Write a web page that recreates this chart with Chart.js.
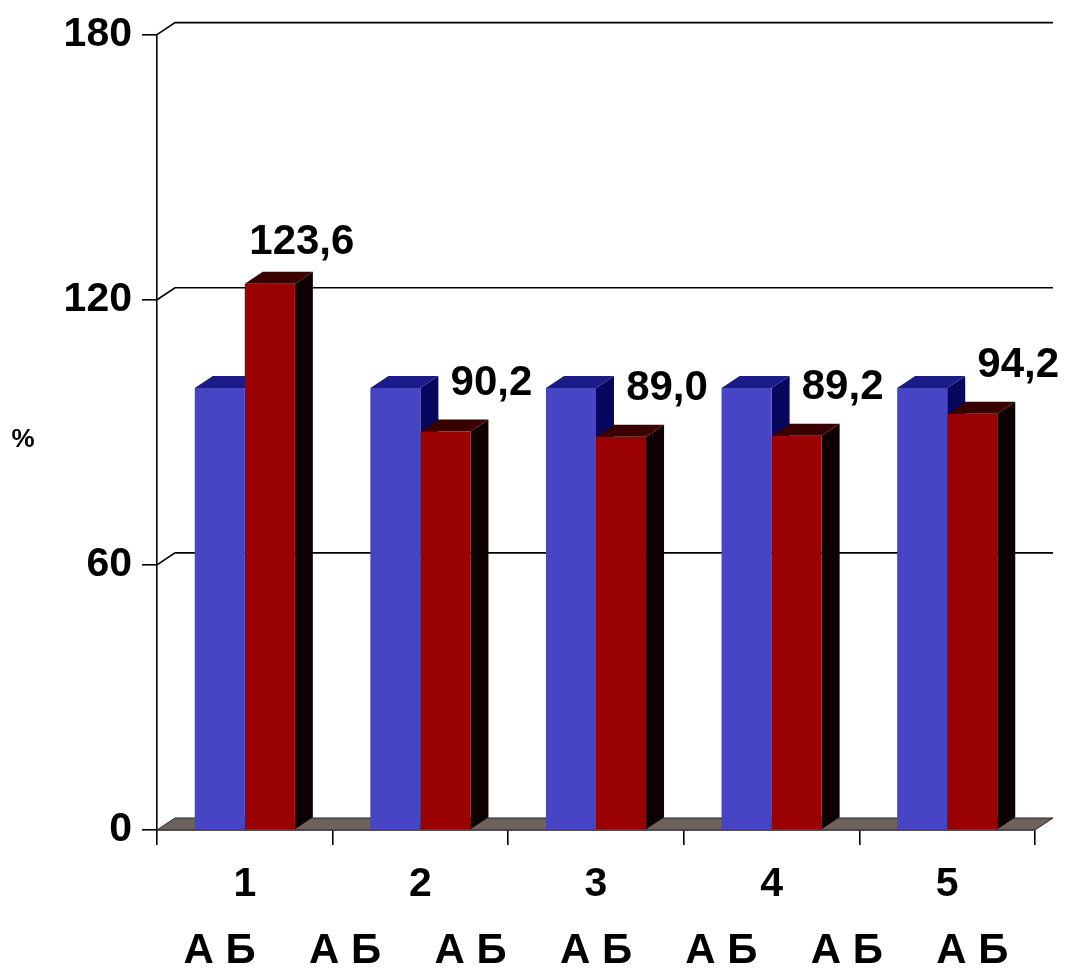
<!DOCTYPE html>
<html>
<head>
<meta charset="utf-8">
<script src="https://cdn.jsdelivr.net/npm/chart.js@4"></script>
<style>
  html, body { margin: 0; padding: 0; background: #fff; }
  #wrap { width: 1067px; height: 969px; }
</style>
</head>
<body>
<div id="wrap"><canvas id="grafico" width="1067" height="969"></canvas></div>
<script>
// datos del gráfico
const categorias = ['1', '2', '3', '4', '5'];
const etiquetasPares = ['А Б', 'А Б', 'А Б', 'А Б', 'А Б', 'А Б', 'А Б'];
const serieA = [100, 100, 100, 100, 100];
const serieB = [123.6, 90.2, 89.0, 89.2, 94.2];
const ticksY = [0, 60, 120, 180];

const fuente = "'Liberation Sans', Arial, sans-serif";
const DX = 18, DY = -12; // profundidad 3D

const colores = {
    azul: { frente: '#4646c4', arriba: '#1c1c88', lado: '#07075e' },
    rojo: { frente: '#9a0202', arriba: '#3a0000', lado: '#0e0000' }
};

function caraSuperior(ctx, izq, der, arriba, color) {
    ctx.fillStyle = color;
    ctx.beginPath();
    ctx.moveTo(izq, arriba);
    ctx.lineTo(izq + DX, arriba + DY);
    ctx.lineTo(der + DX, arriba + DY);
    ctx.lineTo(der, arriba);
    ctx.closePath();
    ctx.fill();
}

function caraLateral(ctx, der, arriba, abajo, color) {
    ctx.fillStyle = color;
    ctx.beginPath();
    ctx.moveTo(der, arriba);
    ctx.lineTo(der + DX, arriba + DY);
    ctx.lineTo(der + DX, abajo + DY);
    ctx.lineTo(der, abajo);
    ctx.closePath();
    ctx.fill();
}

// pared del fondo, piso y caras 3D de las barras
const fondo3D = {
    id: 'fondo3D',
    beforeDatasetsDraw(chart) {
        const ctx = chart.ctx;
        const area = chart.chartArea;
        const y = chart.scales.y;
        ctx.save();

        // líneas de la pared del fondo
        ctx.strokeStyle = '#000';
        ctx.lineWidth = 1.6;
        ticksY.forEach(function(v) {
            if (v === 0) return;
            const py = y.getPixelForValue(v);
            ctx.beginPath();
            ctx.moveTo(area.left, py);
            ctx.lineTo(area.left + DX, py + DY);
            ctx.lineTo(area.right + DX, py + DY);
            ctx.stroke();
        });

        // piso
        const pb = y.getPixelForValue(0);
        ctx.fillStyle = '#6e625e';
        ctx.beginPath();
        ctx.moveTo(area.left, pb);
        ctx.lineTo(area.right, pb);
        ctx.lineTo(area.right + DX, pb + DY);
        ctx.lineTo(area.left + DX, pb + DY);
        ctx.closePath();
        ctx.fill();
        ctx.strokeStyle = '#2a2422';
        ctx.lineWidth = 1;
        ctx.stroke();

        // caras superiores y laterales
        const metaA = chart.getDatasetMeta(0);
        const metaB = chart.getDatasetMeta(1);
        for (let i = 0; i < categorias.length; i++) {
            [[metaA.data[i], colores.azul], [metaB.data[i], colores.rojo]].forEach(function(par) {
                const barra = par[0], c = par[1];
                const izq = barra.x - barra.width / 2;
                const der = barra.x + barra.width / 2;
                caraLateral(ctx, der, barra.y, barra.base, c.lado);
                caraSuperior(ctx, izq, der, barra.y, c.arriba);
            });
        }
        ctx.restore();
    },
    afterDatasetsDraw(chart) {
        const ctx = chart.ctx;
        const metaB = chart.getDatasetMeta(1);
        ctx.save();
        ctx.fillStyle = '#000';
        ctx.font = 'bold 42px ' + fuente;
        ctx.textAlign = 'center';
        ctx.textBaseline = 'middle';
        for (let i = 0; i < serieB.length; i++) {
            const barra = metaB.data[i];
            const mayor = serieB[i] > serieA[i];
            const texto = serieB[i].toFixed(1).replace('.', ',');
            ctx.fillText(texto, barra.x + (mayor ? 32 : 46), barra.y - (mayor ? 41 : 48));
        }
        // signo de porcentaje del eje
        ctx.font = 'bold 26px ' + fuente;
        ctx.fillText('%', 23, 440);
        ctx.restore();
    }
};

const ctx = document.getElementById('grafico').getContext('2d');
new Chart(ctx, {
    type: 'bar',
    data: {
        labels: categorias,
        datasets: [
            {
                label: 'А',
                data: serieA,
                backgroundColor: colores.azul.frente,
                barPercentage: 1.0,
                categoryPercentage: 0.57
            },
            {
                label: 'Б',
                data: serieB,
                backgroundColor: colores.rojo.frente,
                barPercentage: 1.0,
                categoryPercentage: 0.57
            }
        ]
    },
    options: {
        responsive: false,
        animation: false,
        layout: { padding: { top: 33, right: 32, left: 0, bottom: 0 } },
        plugins: {
            legend: { display: false },
            tooltip: { enabled: false }
        },
        scales: {
            y: {
                min: 0,
                max: 180,
                afterBuildTicks(scale) {
                    scale.ticks = ticksY.map(v => ({ value: v }));
                },
                afterFit(scale) { scale.width = 157; },
                border: { display: true, color: '#000', width: 1.6 },
                grid: { drawOnChartArea: false, drawTicks: true, tickLength: 15, color: '#000', lineWidth: 1.6 },
                ticks: { color: '#000', padding: 10, font: { family: fuente, size: 41, weight: 'bold' } }
            },
            x: {
                afterFit(scale) { scale.height = 80; },
                border: { display: true, color: '#000', width: 1.6 },
                grid: { drawOnChartArea: false, drawTicks: true, tickLength: 15, color: '#000', lineWidth: 1.6, offset: true },
                ticks: { color: '#000', padding: 15, font: { family: fuente, size: 41, weight: 'bold' } }
            },
            x2: {
                type: 'category',
                position: 'bottom',
                labels: etiquetasPares,
                offset: true,
                afterFit(scale) { scale.height = 59; },
                border: { display: false },
                grid: { display: false, drawTicks: false },
                ticks: { color: '#000', padding: 16, font: { family: fuente, size: 42, weight: 'bold' } }
            }
        }
    },
    plugins: [fondo3D]
});
</script>
</body>
</html>
